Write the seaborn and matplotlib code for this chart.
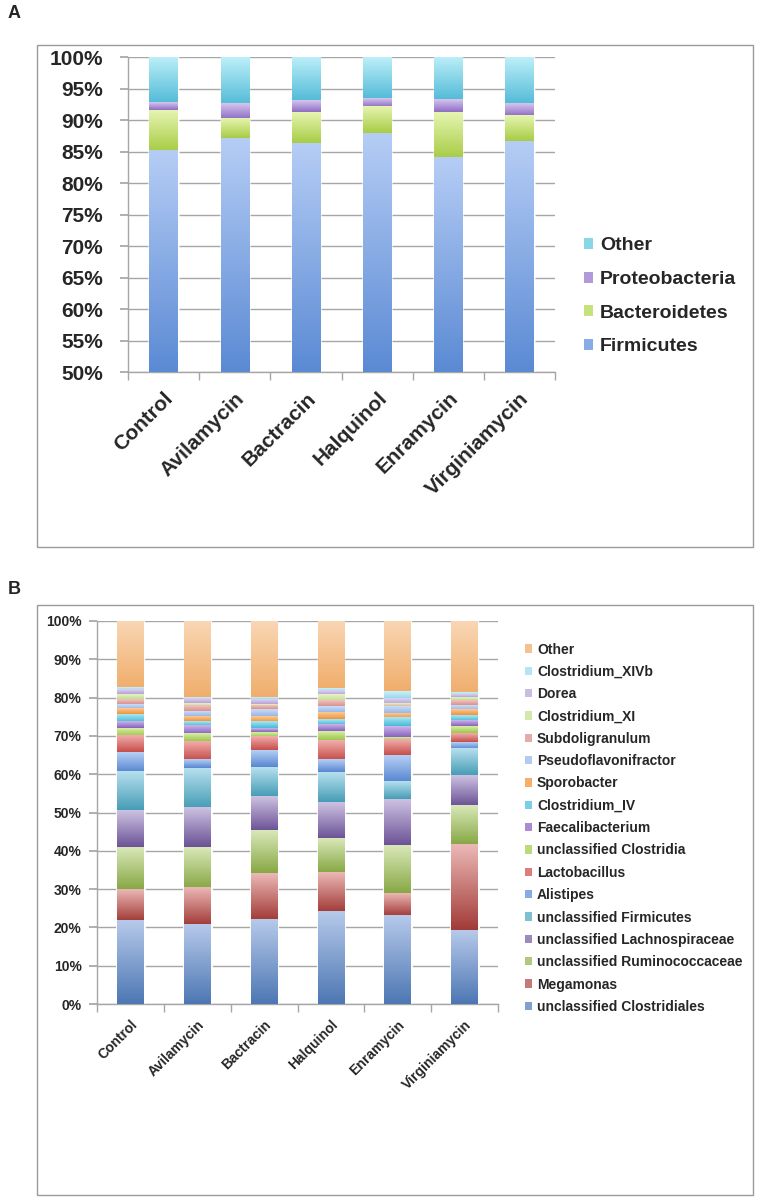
# Stacked relative-abundance bars: phylum (A) and genus (B) level
import numpy as np
import matplotlib
matplotlib.use("Agg")
import matplotlib.pyplot as plt
import seaborn as sns
from matplotlib.colors import LinearSegmentedColormap, to_rgb
from matplotlib.patches import Rectangle, Patch

treatments = ["Control", "Avilamycin", "Bactracin", "Halquinol", "Enramycin", "Virginiamycin"]

# ---- panel A: phyla (% of reads) ----
phylum_names = ["Firmicutes", "Bacteroidetes", "Proteobacteria", "Other"]
firmicutes = [85.1, 87.1, 86.3, 87.9, 84.0, 86.6]
bacteroidetes = [6.5, 3.1, 4.9, 4.2, 7.3, 4.1]
proteobacteria = [1.2, 2.4, 1.9, 1.4, 2.0, 2.0]
other_phylum = [7.2, 7.4, 6.9, 6.5, 6.7, 7.3]

# ---- panel B: genera (% of reads) ----
genus_names = [
    "unclassified Clostridiales", "Megamonas", "unclassified Ruminococcaceae",
    "unclassified Lachnospiraceae", "unclassified Firmicutes", "Alistipes",
    "Lactobacillus", "unclassified Clostridia", "Faecalibacterium", "Clostridium_IV",
    "Sporobacter", "Pseudoflavonifractor", "Subdoligranulum", "Clostridium_XI",
    "Dorea", "Clostridium_XIVb", "Other",
]
unc_clostridiales = [21.8, 20.7, 22.0, 24.1, 23.1, 19.3]
megamonas = [8.2, 9.7, 12.2, 10.3, 5.8, 22.4]
unc_ruminococcaceae = [10.8, 10.6, 11.1, 8.7, 12.4, 10.0]
unc_lachnospiraceae = [9.9, 10.3, 9.1, 9.6, 12.1, 8.0]
unc_firmicutes = [10.0, 10.4, 7.5, 7.8, 4.5, 7.0]
alistipes = [5.2, 2.1, 4.4, 3.3, 7.0, 1.8]
lactobacillus = [4.2, 4.8, 3.5, 5.2, 4.1, 2.3]
unc_clostridia = [1.9, 1.9, 1.2, 2.3, 0.7, 1.7]
faecalibacterium = [1.7, 2.2, 1.0, 1.6, 2.8, 1.5]
clostridium_iv = [1.9, 1.3, 1.7, 1.5, 2.2, 1.4]
sporobacter = [1.5, 1.2, 1.5, 1.8, 1.2, 1.4]
pseudoflavonifractor = [1.3, 1.2, 1.7, 1.5, 1.7, 1.3]
subdoligranulum = [1.2, 1.5, 1.0, 1.4, 0.5, 1.3]
clostridium_xi = [1.3, 0.6, 0.5, 1.6, 0.3, 0.7]
dorea = [1.1, 1.2, 1.3, 1.1, 1.5, 0.6]
clostridium_xivb = [0.6, 0.5, 0.5, 0.7, 1.7, 0.6]
other_genus = [17.4, 19.8, 19.8, 17.5, 18.4, 18.7]

# (top, bottom) gradient colours, Excel "subtle" style
phylum_colors = [
    ("#b5cdf5", "#5b8ad4"),
    ("#e6f5b0", "#a8cc46"),
    ("#d6c6ee", "#8e6ec4"),
    ("#bdeff9", "#55bcd8"),
]
genus_colors = [
    ("#b6c9ea", "#4d77b3"),
    ("#ebb8b6", "#a23b37"),
    ("#d9e8b8", "#88a846"),
    ("#cdc2e2", "#6a5195"),
    ("#b6e0ee", "#479db6"),
    ("#b6d0f6", "#5886d0"),
    ("#f2aeac", "#c54e4a"),
    ("#d9eea6", "#9cc64e"),
    ("#ccb6ea", "#8862be"),
    ("#ace6f5", "#46bad6"),
    ("#fcca96", "#ee943a"),
    ("#ccdcf6", "#98b8e8"),
    ("#f2c4c2", "#d8928e"),
    ("#e6f3c8", "#c2dc8e"),
    ("#ded3ef", "#b6a2d8"),
    ("#cfeff8", "#96dbee"),
    ("#f9d6b4", "#f0ae6c"),
]

W, H = 764, 1200
GRID = "#a6a6a6"

sns.set_theme(style="white")
plt.rcParams["font.family"] = ["Liberation Sans", "DejaVu Sans"]
plt.rcParams["font.weight"] = "bold"

fig = plt.figure(figsize=(W / 100, H / 100), dpi=100)


def add_axes_px(left, top, right, bottom):
    return fig.add_axes([left / W, 1 - bottom / H, (right - left) / W, (bottom - top) / H])


def mid(c):
    a, b = np.array(to_rgb(c[0])), np.array(to_rgb(c[1]))
    return tuple((a + b) / 2)


def draw_stacked(ax, layers, colors, ymin):
    cums = np.cumsum(np.array(layers), axis=0)
    ramp = np.linspace(0, 1, 100).reshape(-1, 1)
    for k in range(len(layers) - 1, -1, -1):
        sns.barplot(x=treatments, y=cums[k], color=colors[k][1], width=0.4,
                    saturation=1, ax=ax, zorder=2)
        lows = cums[k - 1] if k > 0 else np.full(len(treatments), ymin)
        cmap = LinearSegmentedColormap.from_list(f"g{k}", [colors[k][1], colors[k][0]])
        for patch, lo, hi in zip(ax.containers[-1], lows, cums[k]):
            x0, w = patch.get_x(), patch.get_width()
            ax.imshow(ramp, extent=(x0, x0 + w, lo, hi), origin="lower", cmap=cmap,
                      aspect="auto", interpolation="bilinear", zorder=3)


def style_axes(ax, ymin, step, ysize, xsize, ypad, xpad):
    ax.set_xlim(-0.5, len(treatments) - 0.5)
    ax.set_ylim(ymin, 100)
    yt = np.arange(ymin, 100.1, step)
    ax.set_yticks(yt)
    ax.set_yticklabels([f"{int(v)}%" for v in yt], fontsize=ysize, fontweight="bold")
    ax.set_xticks(range(len(treatments)))
    ax.set_xticklabels(treatments, rotation=45, ha="right", rotation_mode="anchor",
                       fontsize=xsize, fontweight="bold")
    ax.set_xticks(np.arange(-0.5, len(treatments)), minor=True)
    ax.set_xlabel("")
    ax.set_ylabel("")
    ax.yaxis.grid(True, color=GRID, lw=1)
    ax.set_axisbelow(True)
    for s in ["top", "right"]:
        ax.spines[s].set_visible(False)
    for s in ["left", "bottom"]:
        ax.spines[s].set_color(GRID)
        ax.spines[s].set_linewidth(1)
    ax.tick_params(axis="y", left=True, length=6, color=GRID, pad=ypad)
    ax.tick_params(axis="x", which="major", bottom=True, length=0, pad=xpad)
    ax.tick_params(axis="x", which="minor", bottom=True, length=6, color=GRID)


def panel_box(top, bottom):
    fig.add_artist(Rectangle((37 / W, 1 - bottom / H), (753 - 37) / W, (bottom - top) / H,
                             transform=fig.transFigure, fill=False, ec="#9a9a9a", lw=1))


# ---- Panel A ----
panel_box(45, 547)
fig.text(8 / W, 1 - 13 / H, "A", fontsize=13, fontweight="bold", va="center")
ax_a = add_axes_px(128, 57, 555, 372)
draw_stacked(ax_a, [firmicutes, bacteroidetes, proteobacteria, other_phylum], phylum_colors, 50)
style_axes(ax_a, 50, 5, 15, 15, 12, 12)
handles = [Patch(facecolor=mid(c), edgecolor="none") for c in phylum_colors][::-1]
fig.legend(handles, phylum_names[::-1], loc="upper left", bbox_to_anchor=(566 / W, 1 - 220 / H),
           frameon=False, handlelength=0.5, handleheight=0.5, handletextpad=0.35,
           labelspacing=0.85, prop=dict(weight="bold", size=14))

# ---- Panel B ----
panel_box(605, 1195)
fig.text(8 / W, 1 - 589 / H, "B", fontsize=13, fontweight="bold", va="center")
ax_b = add_axes_px(97, 621, 498, 1004)
genus_values = [unc_clostridiales, megamonas, unc_ruminococcaceae, unc_lachnospiraceae,
                unc_firmicutes, alistipes, lactobacillus, unc_clostridia, faecalibacterium,
                clostridium_iv, sporobacter, pseudoflavonifractor, subdoligranulum,
                clostridium_xi, dorea, clostridium_xivb, other_genus]
draw_stacked(ax_b, genus_values, genus_colors, 0)
style_axes(ax_b, 0, 10, 10, 10, 5, 10)
handles = [Patch(facecolor=mid(c), edgecolor="none") for c in genus_colors][::-1]
fig.legend(handles, genus_names[::-1], loc="upper left", bbox_to_anchor=(512 / W, 1 - 630 / H),
           frameon=False, handlelength=0.55, handleheight=0.55, handletextpad=0.35,
           labelspacing=0.6, prop=dict(weight="bold", size=10))

fig.savefig("out.png", dpi=100)
